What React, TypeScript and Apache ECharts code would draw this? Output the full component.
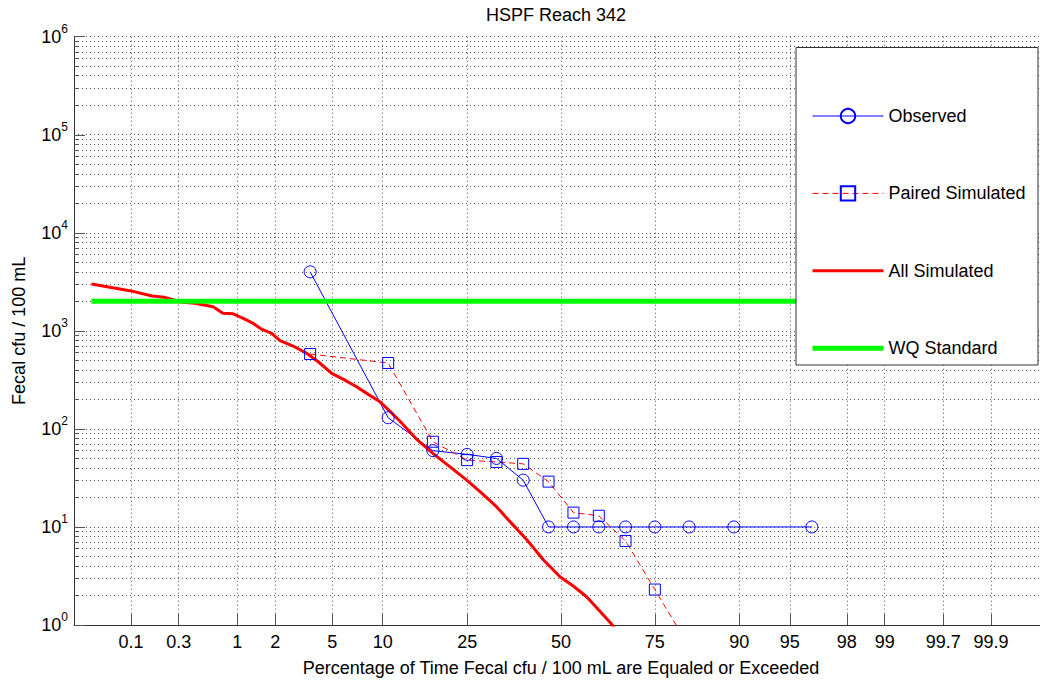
import React, { useEffect, useRef } from "react";
import * as echarts from "echarts";

// ---------- data ----------
const xTickPct = [0.1, 0.3, 1, 2, 5, 10, 25, 50, 75, 90, 95, 98, 99, 99.7, 99.9];
const xTickLabels = ["0.1", "0.3", "1", "2", "5", "10", "25", "50", "75", "90", "95", "98", "99", "99.7", "99.9"];
const yDecades = [0, 1, 2, 3, 4, 5, 6];

const obsPct = [3.57, 10.71, 17.86, 25.0, 32.14, 39.29, 46.43, 53.57, 60.71, 67.86, 75.0, 82.14, 89.29, 96.43];
const observed = [4000, 130, 60, 55, 50, 30, 10, 10, 10, 10, 10, 10, 10, 10];
const pairedSimulated = [580, 470, 74, 48, 46, 44, 29, 14, 13, 7.2, 2.3, 0.6, 0.3, 0.1];

const allSimPct = [0.037, 0.097, 0.165, 0.216, 0.327, 0.426, 0.621, 0.755, 0.924, 1.12, 1.35, 1.57, 1.88, 2.17, 2.71, 3.38, 4.05, 4.97, 5.9, 7.09, 8.3, 9.66, 11.0, 12.4, 15.0, 17.9, 21.0, 24.9, 28.5, 32.2, 36.0, 40.3, 45.0, 49.7, 53.5, 57.3, 60.5, 63.8, 67.7];
const allSimulated = [3000, 2570, 2270, 2200, 1960, 1910, 1760, 1510, 1490, 1340, 1190, 1040, 944, 794, 700, 590, 484, 369, 320, 269, 225, 189, 150, 119, 78, 56, 42, 30, 22, 16, 11, 7.4, 4.6, 3.1, 2.5, 1.94, 1.45, 1.06, 0.7];

const wqPct = [0.037, 99.963];
const wqStandard = [2000, 2000];

// ---------- helpers (normal probability scale + log scale) ----------
function probit(p: number): number {
  const a = [-3.969683028665376e1, 2.209460984245205e2, -2.759285104469687e2, 1.38357751867269e2, -3.066479806614716e1, 2.506628277459239];
  const b = [-5.447609879822406e1, 1.615858368580409e2, -1.556989798598866e2, 6.680131188771972e1, -1.328068155288572e1];
  const c = [-7.784894002430293e-3, -3.223964580411365e-1, -2.400758277161838, -2.549732539343734, 4.374664141464968, 2.938163982698783];
  const d = [7.784695709041462e-3, 3.224671290700398e-1, 2.445134137142996, 3.754408661907416];
  const plow = 0.02425;
  if (p < plow) {
    const q = Math.sqrt(-2 * Math.log(p));
    return (((((c[0] * q + c[1]) * q + c[2]) * q + c[3]) * q + c[4]) * q + c[5]) / ((((d[0] * q + d[1]) * q + d[2]) * q + d[3]) * q + 1);
  }
  if (p <= 1 - plow) {
    const q = p - 0.5;
    const r = q * q;
    return ((((((a[0] * r + a[1]) * r + a[2]) * r + a[3]) * r + a[4]) * r + a[5]) * q) / (((((b[0] * r + b[1]) * r + b[2]) * r + b[3]) * r + b[4]) * r + 1);
  }
  const q = Math.sqrt(-2 * Math.log(1 - p));
  return -(((((c[0] * q + c[1]) * q + c[2]) * q + c[3]) * q + c[4]) * q + c[5]) / ((((d[0] * q + d[1]) * q + d[2]) * q + d[3]) * q + 1);
}
const zOf = (pct: number) => probit(pct / 100);
const pairs = (pct: number[], vals: number[]) => pct.map((p, i) => [zOf(p), Math.log10(vals[i])]);

const FONT = "'Liberation Sans', Arial, Helvetica, sans-serif";

export default function App() {
  const ref = useRef<HTMLDivElement>(null);
  useEffect(() => {
    if (!ref.current) return;
    const chart = echarts.init(ref.current, null, { renderer: "svg" });

    const xTickZ = xTickPct.map(zOf);
    const yMinor: number[] = [];
    for (let n = 0; n < 6; n++) for (let k = 1; k <= 9; k++) yMinor.push(Math.log10(k * Math.pow(10, n)));
    yMinor.push(6);

    const gridLine = { show: true, lineStyle: { color: "#555", width: 1, type: [1, 3] } };
    const blue = "#0000ff";
    const noMarker = { color: "rgba(0,0,0,0)", borderWidth: 0, borderColor: "rgba(0,0,0,0)" };

    const option: any = {
      animation: false,
      textStyle: { fontFamily: FONT },
      title: {
        text: "HSPF Reach 342",
        left: 486,
        top: 6,
        padding: 0,
        textStyle: { fontSize: 18, fontWeight: "normal", color: "#000", fontFamily: FONT },
      },
      grid: { left: 74, top: 36.7, width: 974, height: 588.3, outerBoundsMode: "none", containLabel: false },
      xAxis: {
        type: "value",
        min: -3.5,
        max: 3.5,
        name: "Percentage of Time Fecal cfu / 100 mL are Equaled or Exceeded",
        nameLocation: "middle",
        nameGap: 34,
        nameTextStyle: { fontSize: 18, color: "#000", fontFamily: FONT },
        axisLine: { show: true, onZero: false, lineStyle: { color: "#333", width: 1 } },
        axisTick: { show: true, inside: true, length: 11, customValues: xTickZ, lineStyle: { color: "#555" } },
        axisLabel: {
          show: true,
          customValues: xTickZ,
          margin: 8,
          fontSize: 18,
          color: "#000",
          fontFamily: FONT,
          formatter: (v: number) => {
            let best = 0;
            for (let i = 1; i < xTickZ.length; i++) if (Math.abs(xTickZ[i] - v) < Math.abs(xTickZ[best] - v)) best = i;
            return xTickLabels[best];
          },
        },
        splitLine: gridLine,
      },
      yAxis: [
        {
          type: "value",
          min: 0,
          max: 6,
          position: "left",
          name: "Fecal cfu / 100 mL",
          nameLocation: "middle",
          nameGap: 46,
          nameTextStyle: { fontSize: 18, color: "#000", fontFamily: FONT },
          axisLine: { show: true, onZero: false, lineStyle: { color: "#333", width: 1 } },
          axisTick: { show: true, inside: true, length: 5, customValues: yMinor, lineStyle: { color: "#555" } },
          axisLabel: {
            show: true,
            customValues: yDecades,
            margin: 6,
            formatter: (v: number) => `{b|10}{s|${Math.round(v)}}`,
            rich: {
              b: { fontSize: 18, lineHeight: 28, color: "#000", fontFamily: FONT },
              s: { fontSize: 12, lineHeight: 12, verticalAlign: "top", color: "#000", fontFamily: FONT },
            },
          },
          splitLine: gridLine,
        },
        {
          type: "value",
          min: 0,
          max: 6,
          interval: 1,
          position: "left",
          axisLine: { show: false, onZero: false },
          axisTick: { show: true, inside: true, length: 11, lineStyle: { color: "#555" } },
          axisLabel: { show: false },
          splitLine: { show: false },
        },
      ],
      legend: {
        orient: "vertical",
        left: 810,
        top: 107,
        padding: 0,
        itemWidth: 71,
        itemHeight: 18,
        itemGap: 59.4,
        z: 10,
        selectedMode: false,
        textStyle: { fontSize: 18, lineHeight: 18, color: "#000", fontFamily: FONT },
        data: [
          { name: "Observed", lineStyle: { width: 1 } },
          { name: "Paired Simulated", lineStyle: { width: 1, color: "#ff0000", type: [6, 4] } },
          { name: "All Simulated", lineStyle: { width: 3 }, itemStyle: noMarker },
          { name: "WQ Standard", lineStyle: { width: 5 }, itemStyle: noMarker },
        ],
      },
      graphic: [
        {
          type: "rect",
          z: 5,
          shape: { x: 796, y: 47.5, width: 242, height: 317.5 },
          style: { fill: "#fff", stroke: "#333", lineWidth: 1 },
          silent: true,
        },
      ],
      series: [
        {
          name: "Observed",
          type: "line",
          data: pairs(obsPct, observed),
          symbol: "circle",
          symbolSize: 12,
          showSymbol: true,
          itemStyle: { color: "rgba(0,0,0,0)", borderColor: blue, borderWidth: 1 },
          lineStyle: { color: blue, width: 1 },
          silent: true,
        },
        {
          name: "Paired Simulated",
          type: "line",
          data: pairs(obsPct, pairedSimulated),
          symbol: "rect",
          symbolSize: 11,
          showSymbol: true,
          itemStyle: { color: "rgba(0,0,0,0)", borderColor: blue, borderWidth: 1 },
          lineStyle: { color: "#ff0000", width: 1, type: [6, 4] },
          silent: true,
        },
        {
          name: "All Simulated",
          type: "line",
          data: pairs(allSimPct, allSimulated),
          symbol: "none",
          itemStyle: { color: "#ff0000" },
          lineStyle: { color: "#ff0000", width: 3 },
          silent: true,
        },
        {
          name: "WQ Standard",
          type: "line",
          data: pairs(wqPct, wqStandard),
          symbol: "none",
          itemStyle: { color: "#00ff00" },
          lineStyle: { color: "#00ff00", width: 5 },
          silent: true,
        },
      ],
    };
    chart.setOption(option);
    return () => chart.dispose();
  }, []);
  return (
    <div
      ref={ref}
      style={{ position: "absolute", left: 0, top: 0, width: 1040, height: 683, background: "#fff" }}
    />
  );
}
